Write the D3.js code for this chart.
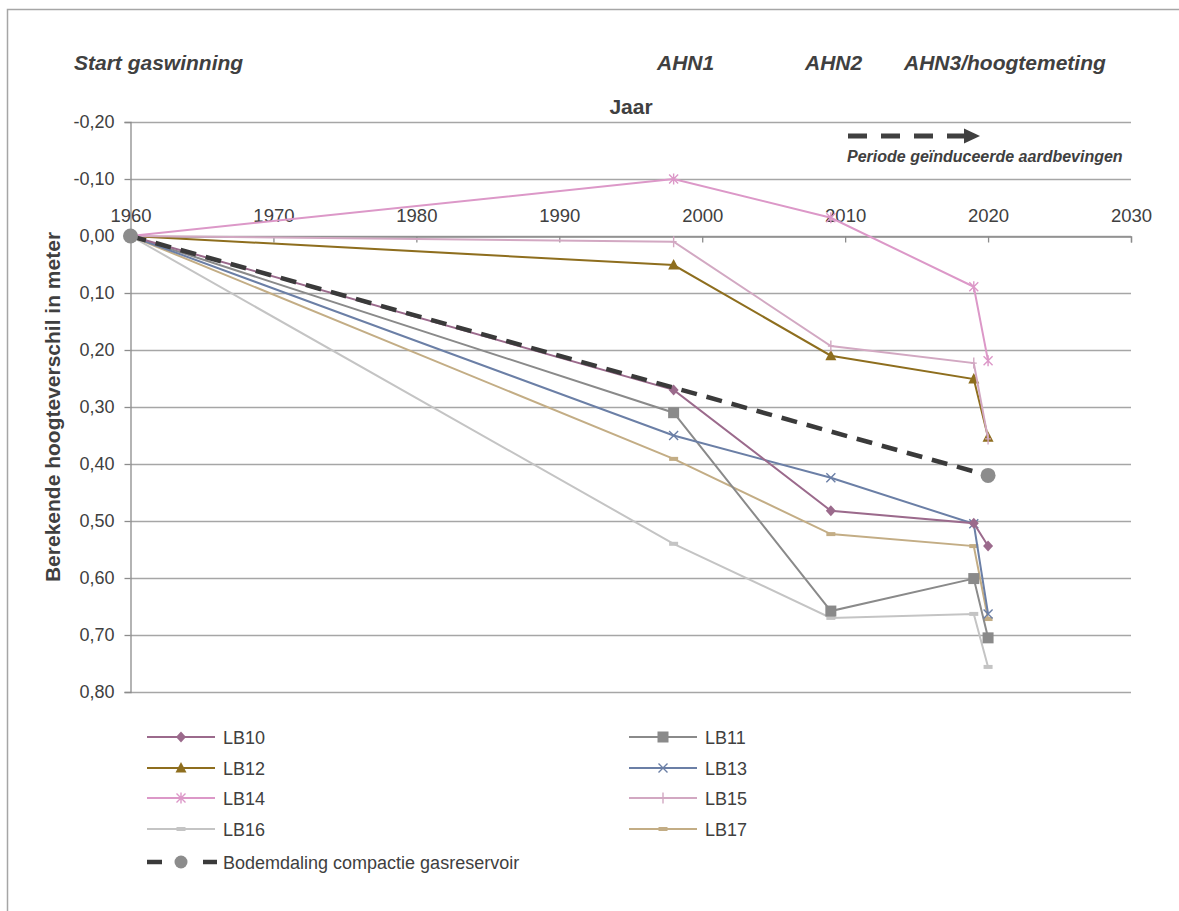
<!DOCTYPE html>
<html><head><meta charset="utf-8">
<script src="https://cdn.jsdelivr.net/npm/d3@7/dist/d3.min.js"></script>
<style>body{margin:0;background:#fff}svg{display:block;font-family:"Liberation Sans",Arial,sans-serif}</style>
</head><body><svg id="c" width="1179" height="911"></svg>
<script>
const years = [1960, 1998, 2009, 2019, 2020];
const seriesNames = ["LB10","LB11","LB12","LB13","LB14","LB15","LB16","LB17"];
const LB10 = [0, 0.270, 0.482, 0.504, 0.544];
const LB11 = [0, 0.310, 0.658, 0.601, 0.705];
const LB12 = [0, 0.051, 0.210, 0.251, 0.353];
const LB13 = [0, 0.350, 0.424, 0.505, 0.663];
const LB14 = [0, -0.100, -0.032, 0.089, 0.219];
const LB15 = [0, 0.010, 0.193, 0.223, 0.356];
const LB16 = [0, 0.540, 0.670, 0.663, 0.756];
const LB17 = [0, 0.391, 0.523, 0.544, 0.672];
const compYears = [1960, 2020];
const compValues = [0, 0.42];
const xTicks = [1960,1970,1980,1990,2000,2010,2020,2030];
const yTicks = [-0.2,-0.1,0,0.1,0.2,0.3,0.4,0.5,0.6,0.7,0.8];
const annotations = [["Start gaswinning",74],["AHN1",657],["AHN2",805],["AHN3/hoogtemeting",904]];

const colors = {LB10:"#9b6a8c",LB11:"#8a8a8a",LB12:"#8e6e1e",LB13:"#6b7fa6",LB14:"#dc98c8",LB15:"#d2a8c2",LB16:"#c4c4c4",LB17:"#c3ad85"};
const markers = {LB10:"diamond",LB11:"square",LB12:"triangle",LB13:"x",LB14:"star",LB15:"plus",LB16:"dash",LB17:"dash"};
const data = {LB10,LB11,LB12,LB13,LB14,LB15,LB16,LB17};

const svg = d3.select("#c");
const txt = "#404040";
svg.append("rect").attr("x",7.5).attr("y",9.5).attr("width",1200).attr("height",940).attr("fill","none").attr("stroke","#a6a6a6").attr("stroke-width",1.5);

const x = d3.scaleLinear().domain([1960,2030]).range([130.5,1131]);
const y = d3.scaleLinear().domain([-0.2,0.8]).range([122,692]);

// grid
svg.append("g").selectAll("line").data(yTicks).join("line")
  .attr("x1",x(1960)).attr("x2",x(2030)).attr("y1",d=>Math.round(y(d))+0.5).attr("y2",d=>Math.round(y(d))+0.5)
  .attr("stroke","#a6a6a6").attr("stroke-width",1.3);

// y axis
const fmt = d => d3.format(".2f")(d).replace(".",",").replace("−","-");
const yAx = svg.append("g").attr("transform",`translate(${x(1960)},0)`)
  .call(d3.axisLeft(y).tickValues(yTicks).tickSize(6).tickFormat(fmt));
yAx.select(".domain").attr("stroke","#8c8c8c").attr("stroke-width",1.3);
yAx.selectAll(".tick line").attr("stroke","#8c8c8c").attr("stroke-width",1.3);
yAx.selectAll("text").attr("font-size",18).attr("fill",txt).attr("x",-16).attr("font-family","Liberation Sans, Arial, sans-serif");

// x axis at y=0
const xAx = svg.append("g").attr("transform",`translate(0,${Math.round(y(0))+0.5})`)
  .call(d3.axisTop(x).tickValues(xTicks).tickSize(-6).tickFormat(d3.format("d")));
xAx.select(".domain").attr("stroke","#8c8c8c").attr("stroke-width",1.3);
xAx.selectAll(".tick line").attr("stroke","#8c8c8c").attr("stroke-width",1.3);
xAx.selectAll("text").attr("font-size",18.5).attr("fill",txt).attr("y",-15).attr("font-family","Liberation Sans, Arial, sans-serif");

// titles
svg.append("text").attr("x",631).attr("y",114).attr("text-anchor","middle").attr("font-size",21).attr("font-weight","bold").attr("fill",txt).text("Jaar");
svg.append("text").attr("transform",`translate(60,${(y(-0.2)+y(0.8))/2}) rotate(-90)`).attr("text-anchor","middle")
  .attr("font-size",21).attr("font-weight","bold").attr("fill",txt).text("Berekende hoogteverschil in meter");
annotations.forEach(([t,xx])=>svg.append("text").attr("x",xx).attr("y",70).attr("font-size",21).attr("font-weight","bold").attr("font-style","italic").attr("fill",txt).text(t));

// arrow
svg.append("line").attr("x1",848).attr("x2",967).attr("y1",136).attr("y2",136).attr("stroke","#404040").attr("stroke-width",5).attr("stroke-dasharray","19,14");
svg.append("path").attr("d","M964,128.5 L980,136 L964,143.5 Z").attr("fill","#404040");
svg.append("text").attr("x",847).attr("y",162).attr("font-size",16).attr("font-weight","bold").attr("font-style","italic").attr("fill",txt).text("Periode geïnduceerde aardbevingen");

function drawMarker(g, type, cx, cy, col){
  if(type==="diamond") g.append("path").attr("d",`M${cx},${cy-5.5} L${cx+5},${cy} L${cx},${cy+5.5} L${cx-5},${cy} Z`).attr("fill",col);
  else if(type==="square") g.append("rect").attr("x",cx-5.5).attr("y",cy-5.5).attr("width",11).attr("height",11).attr("fill",col);
  else if(type==="triangle") g.append("path").attr("d",`M${cx},${cy-6} L${cx+5.5},${cy+4.5} L${cx-5.5},${cy+4.5} Z`).attr("fill",col);
  else if(type==="x") g.append("path").attr("d",`M${cx-4.5},${cy-4.5} L${cx+4.5},${cy+4.5} M${cx-4.5},${cy+4.5} L${cx+4.5},${cy-4.5}`).attr("stroke",col).attr("stroke-width",1.4).attr("fill","none");
  else if(type==="star") g.append("path").attr("d",`M${cx-4.5},${cy-4.5} L${cx+4.5},${cy+4.5} M${cx-4.5},${cy+4.5} L${cx+4.5},${cy-4.5} M${cx},${cy-5.5} L${cx},${cy+5.5}`).attr("stroke",col).attr("stroke-width",1.4).attr("fill","none");
  else if(type==="plus") g.append("path").attr("d",`M${cx},${cy-5.5} L${cx},${cy+5.5} M${cx-3},${cy} L${cx+3},${cy}`).attr("stroke",col).attr("stroke-width",1.4).attr("fill","none");
  else if(type==="dash") g.append("rect").attr("x",cx-4.5).attr("y",cy-2).attr("width",9).attr("height",4).attr("fill",col);
}

const line = d3.line().x(d=>x(d[0])).y(d=>y(d[1]));
const plotOrder = ["LB16","LB17","LB11","LB13","LB10","LB12","LB15","LB14"];
plotOrder.forEach(n=>{
  const pts = years.map((yr,i)=>[yr,data[n][i]]);
  const g = svg.append("g");
  g.append("path").attr("d",line(pts)).attr("fill","none").attr("stroke",colors[n]).attr("stroke-width",2);
  pts.slice(1).forEach(p=>drawMarker(g,markers[n],x(p[0]),y(p[1]),colors[n]));
});
// compaction line
const cpts = compYears.map((yr,i)=>[yr,compValues[i]]);
svg.append("path").attr("d",line(cpts)).attr("fill","none").attr("stroke","#3a3a3a").attr("stroke-width",4.5).attr("stroke-dasharray","16,10");
cpts.forEach(p=>svg.append("circle").attr("cx",x(p[0])).attr("cy",y(p[1])).attr("r",7.5).attr("fill","#8c8c8c"));

// legend
const legY = [737,768,798,829];
seriesNames.forEach((n,i)=>{
  const col = i%2, row = Math.floor(i/2);
  const lx = col===0?147:629, ly = legY[row];
  const g = svg.append("g");
  g.append("line").attr("x1",lx).attr("x2",lx+68).attr("y1",ly).attr("y2",ly).attr("stroke",colors[n]).attr("stroke-width",2);
  drawMarker(g,markers[n],lx+34,ly,colors[n]);
  g.append("text").attr("x",lx+76).attr("y",ly+6.5).attr("font-size",18).attr("fill",txt).text(n);
});
const bl = svg.append("g");
bl.append("line").attr("x1",147).attr("x2",162).attr("y1",862).attr("y2",862).attr("stroke","#3a3a3a").attr("stroke-width",4.5);
bl.append("line").attr("x1",203).attr("x2",217).attr("y1",862).attr("y2",862).attr("stroke","#3a3a3a").attr("stroke-width",4.5);
bl.append("circle").attr("cx",181).attr("cy",862).attr("r",6.5).attr("fill","#8c8c8c");
bl.append("text").attr("x",223).attr("y",868.5).attr("font-size",18).attr("fill",txt).text("Bodemdaling compactie gasreservoir");
</script></body></html>
